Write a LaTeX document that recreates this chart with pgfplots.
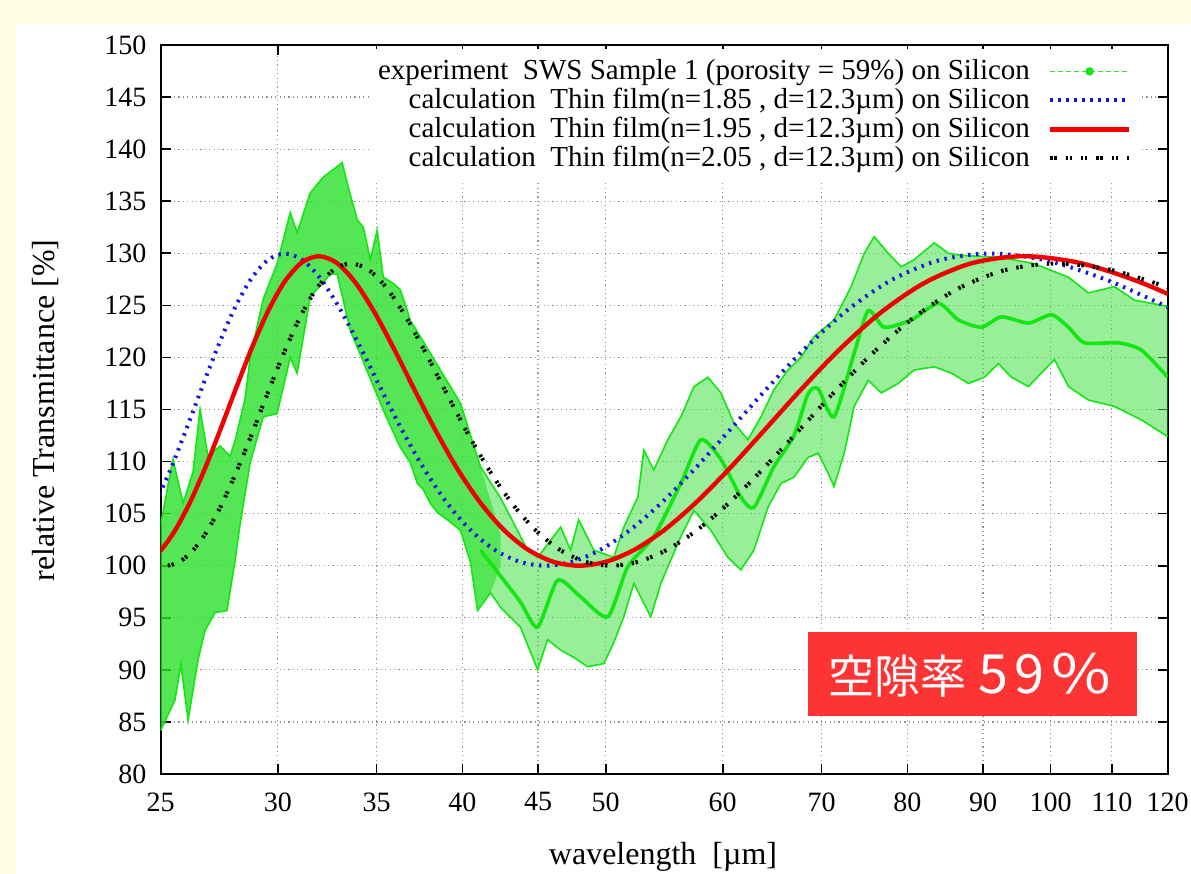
\documentclass[border=0pt]{standalone}
\usepackage{fontspec}
\setmainfont{Liberation Serif}
\newfontfamily\cjk{Noto Sans CJK JP}
\usepackage{graphicx}
\usepackage{pgfplots}
\pgfplotsset{compat=1.18}
\definecolor{bgyellow}{RGB}{255,253,228}
\definecolor{expgreen}{RGB}{20,230,20}
\definecolor{leggreen}{RGB}{60,225,60}
\definecolor{bandgreen}{RGB}{70,225,70}
\definecolor{satgreen}{RGB}{30,225,30}
\definecolor{calcblue}{RGB}{20,20,225}
\definecolor{calcred}{RGB}{240,0,0}
\definecolor{boxred}{RGB}{252,52,52}
\definecolor{gridgray}{RGB}{150,150,150}
\begin{document}
\begin{tikzpicture}
\fill[bgyellow] (0,0) rectangle (595.5pt,437pt);
\fill[white] (7.5pt,0) rectangle (595.5pt,425pt);
\begin{axis}[
  at={(80.35pt,50pt)}, anchor=south west,
  width=503.5pt, height=364.5pt, scale only axis,
  xmode=log, xmin=25, xmax=120, ymin=80, ymax=150,
  xtick={25,30,35,40,45,50,60,70,80,90,100,110,120},
  xticklabels={25,30,35,40,45,50,60,70,80,90,100,110,120},
  ytick={80,85,...,150},
  /pgf/number format/assume math mode=true,
  tick align=inside, major tick length=5pt,
  tick style={black, line width=0.8pt},
  axis line style={line width=0.9pt},
  grid=major,
  major grid style={gridgray, line width=0.6pt, dash pattern=on 0.6pt off 1.6pt},
  ticklabel style={font=\fontsize{14}{16}\selectfont},
  xticklabel style={yshift=-5.7pt},
  yticklabel style={xshift=-3.7pt},
  xlabel={wavelength\ \ [µm]},
  ylabel={relative Transmittance [\%]},
  label style={font=\fontsize{16}{18}\selectfont},
  xlabel style={at={(axis description cs:0.4988,-0.1248)}, anchor=base},
  ylabel style={at={(axis description cs:-0.105,0.4986)}, anchor=base},
  legend style={draw=none, fill=white, at={(axis description cs:1,1)}, anchor=north east,
    xshift=-14pt, yshift=-1.75pt, inner sep=4pt, font=\fontsize{14.5}{17}\selectfont,
    row sep=0pt, nodes={inner sep=0pt, text height=11.25pt, text depth=3.25pt},
    /tikz/every odd column/.append style={column sep=9pt}},
  legend cell align=right, legend plot pos=right,
  legend image code/.code={\draw[mark repeat=2,mark phase=2,#1] plot coordinates {(0pt,0pt) (19.75pt,0pt) (39.5pt,0pt)};},
]
\addlegendimage{leggreen, line width=0.8pt, dash pattern=on 2.5pt off 1.5pt, mark=*, mark size=1.7pt, mark options={solid, fill=expgreen, draw=expgreen}}
\addlegendentry{experiment\ \ SWS Sample 1 (porosity = 59\%) on Silicon}

% experiment: fringe band (upper envelope, then lower envelope backwards)
\addplot[fill=bandgreen, fill opacity=0.55, draw=none, forget plot] coordinates {
(25.00,104.0)(25.48,110.2)(25.89,106.0)(26.29,109.0)(26.58,115.0)(26.91,110.5)(27.42,111.5)(27.85,110.5)(28.07,112.0)(28.51,116.0)(28.74,120.0)(29.33,125.6)(29.97,129.0)(30.59,133.9)(30.92,132.0)(31.56,135.8)(32.20,137.3)(33.17,138.7)(33.43,136.7)(33.96,133.2)(34.28,132.5)(34.65,129.4)(35.03,132.2)(35.36,127.7)(35.92,127.1)(36.31,126.5)(36.90,123.5)(37.46,122.0)(38.65,118.8)(39.88,115.6)(41.14,109.5)(42.45,106.5)(43.32,104.1)(44.27,101.5)(44.97,100.8)(46.61,103.7)(47.34,101.5)(47.94,104.4)(49.08,101.5)(50.63,100.8)(51.43,103.7)(52.57,106.6)(53.06,111.1)(53.89,109.2)(55.08,112.1)(56.21,114.3)(57.37,117.2)(58.63,118.1)(59.83,116.6)(61.05,113.7)(62.40,112.1)(63.68,114.3)(64.98,116.9)(66.42,118.8)(67.78,120.0)(69.17,122.0)(71.37,123.6)(73.29,126.8)(74.80,130.0)(75.97,131.6)(77.65,130.0)(79.24,128.7)(80.86,129.4)(83.43,131.0)(85.27,130.0)(87.01,129.8)(92.61,129.6)(97.50,129.0)(102.81,127.7)(106.07,126.2)(110.45,126.8)(113.94,125.5)(120.00,124.9)
(120.00,112.4)(115.19,114.0)(110.45,115.3)(106.07,115.9)(102.81,117.2)(100.59,119.8)(98.57,118.5)(96.59,117.2)(94.07,118.1)(92.18,119.4)(90.19,118.1)(87.97,117.5)(85.67,118.5)(83.43,119.1)(80.86,118.8)(78.87,117.5)(76.81,116.6)(75.27,117.8)(73.64,115.3)(72.50,110.8)(71.37,107.6)(70.70,108.9)(69.61,110.8)(68.53,110.4)(67.05,108.5)(65.70,107.9)(64.38,105.6)(62.99,101.5)(61.72,99.6)(60.48,100.8)(58.90,103.4)(57.37,105.3)(56.21,102.8)(54.49,98.3)(53.64,95.1)(53.06,96.4)(52.24,98.3)(51.43,95.1)(50.63,92.6)(49.85,90.6)(48.62,90.3)(47.57,91.2)(46.61,91.9)(45.67,92.9)(44.97,90.0)(43.79,94.1)(42.45,96.0)(41.79,97.4)(40.95,95.7)(40.51,100.3)(39.88,103.4)(39.08,104.4)(38.47,105.1)(38.05,106.0)(37.64,107.3)(37.29,107.9)(36.88,109.9)(36.30,111.4)(35.60,114.0)(34.90,116.9)(33.59,122.6)(32.91,128.0)(32.56,128.0)(31.56,125.8)(30.92,118.5)(30.59,120.0)(29.97,114.6)(29.33,114.3)(28.74,109.9)(28.29,104.0)(28.07,100.5)(27.72,95.7)(27.21,95.5)(26.79,93.8)(26.50,91.0)(26.09,85.2)(25.80,90.5)(25.56,87.1)(25.00,84.2)
} -- cycle;
% dense left part of the band
\addplot[fill=satgreen, fill opacity=0.55, draw=none, forget plot] coordinates {
(25.00,104.0)(25.48,110.2)(25.89,106.0)(26.29,109.0)(26.58,115.0)(26.91,110.5)(27.42,111.5)(27.85,110.5)(28.07,112.0)(28.51,116.0)(28.74,120.0)(29.33,125.6)(29.97,129.0)(30.59,133.9)(30.92,132.0)(31.56,135.8)(32.20,137.3)(33.17,138.7)(33.43,136.7)(33.96,133.2)(34.28,132.5)(34.65,129.4)(35.03,132.2)(35.36,127.7)(35.92,127.1)(36.31,126.5)(36.90,123.5)(37.46,122.0)(38.65,118.8)(39.88,115.6)(41.14,109.5)(42.45,103.0)
(42.45,100.0)(41.79,97.4)(40.95,95.7)(40.51,100.3)(39.88,103.4)(39.08,104.4)(38.47,105.1)(38.05,106.0)(37.64,107.3)(37.29,107.9)(36.88,109.9)(36.30,111.4)(35.60,114.0)(34.90,116.9)(33.59,122.6)(32.91,128.0)(32.56,128.0)(31.56,125.8)(30.92,118.5)(30.59,120.0)(29.97,114.6)(29.33,114.3)(28.74,109.9)(28.29,104.0)(28.07,100.5)(27.72,95.7)(27.21,95.5)(26.79,93.8)(26.50,91.0)(26.09,85.2)(25.80,90.5)(25.56,87.1)(25.00,84.2)
} -- cycle;
% band edges
\addplot[expgreen, line width=0.8pt, forget plot] coordinates {
(25.00,104.0)(25.48,110.2)(25.89,106.0)(26.29,109.0)(26.58,115.0)(26.91,110.5)(27.42,111.5)(27.85,110.5)(28.07,112.0)(28.51,116.0)(28.74,120.0)(29.33,125.6)(29.97,129.0)(30.59,133.9)(30.92,132.0)(31.56,135.8)(32.20,137.3)(33.17,138.7)(33.43,136.7)(33.96,133.2)(34.28,132.5)(34.65,129.4)(35.03,132.2)(35.36,127.7)(35.92,127.1)(36.31,126.5)(36.90,123.5)(37.46,122.0)(38.65,118.8)(39.88,115.6)(41.14,109.5)(42.45,106.5)(43.32,104.1)(44.27,101.5)(44.97,100.8)(46.61,103.7)(47.34,101.5)(47.94,104.4)(49.08,101.5)(50.63,100.8)(51.43,103.7)(52.57,106.6)(53.06,111.1)(53.89,109.2)(55.08,112.1)(56.21,114.3)(57.37,117.2)(58.63,118.1)(59.83,116.6)(61.05,113.7)(62.40,112.1)(63.68,114.3)(64.98,116.9)(66.42,118.8)(67.78,120.0)(69.17,122.0)(71.37,123.6)(73.29,126.8)(74.80,130.0)(75.97,131.6)(77.65,130.0)(79.24,128.7)(80.86,129.4)(83.43,131.0)(85.27,130.0)(87.01,129.8)(92.61,129.6)(97.50,129.0)(102.81,127.7)(106.07,126.2)(110.45,126.8)(113.94,125.5)(120.00,124.9)
};
\addplot[expgreen, line width=0.8pt, forget plot] coordinates {
(25.00,84.2)(25.56,87.1)(25.80,90.5)(26.09,85.2)(26.50,91.0)(26.79,93.8)(27.21,95.5)(27.72,95.7)(28.07,100.5)(28.29,104.0)(28.74,109.9)(29.33,114.3)(29.97,114.6)(30.59,120.0)(30.92,118.5)(31.56,125.8)(32.56,128.0)(32.91,128.0)(33.59,122.6)(34.90,116.9)(35.60,114.0)(36.30,111.4)(36.88,109.9)(37.29,107.9)(37.64,107.3)(38.05,106.0)(38.47,105.1)(39.08,104.4)(39.88,103.4)(40.51,100.3)(40.95,95.7)(41.79,97.4)(42.45,96.0)(43.79,94.1)(44.97,90.0)(45.67,92.9)(46.61,91.9)(47.57,91.2)(48.62,90.3)(49.85,90.6)(50.63,92.6)(51.43,95.1)(52.24,98.3)(53.06,96.4)(53.64,95.1)(54.49,98.3)(56.21,102.8)(57.37,105.3)(58.90,103.4)(60.48,100.8)(61.72,99.6)(62.99,101.5)(64.38,105.6)(65.70,107.9)(67.05,108.5)(68.53,110.4)(69.61,110.8)(70.70,108.9)(71.37,107.6)(72.50,110.8)(73.64,115.3)(75.27,117.8)(76.81,116.6)(78.87,117.5)(80.86,118.8)(83.43,119.1)(85.67,118.5)(87.97,117.5)(90.19,118.1)(92.18,119.4)(94.07,118.1)(96.59,117.2)(98.57,118.5)(100.59,119.8)(102.81,117.2)(106.07,115.9)(110.45,115.3)(115.19,114.0)(120.00,112.4)
};
% experiment: dense core line
\addplot[expgreen, line width=1.8pt, smooth, tension=0.4, forget plot] coordinates {
(41.14,101.5)(42.45,99.0)(43.79,96.5)(44.97,94.1)(46.39,98.6)(48.09,97.0)(50.16,95.1)(51.75,99.9)(53.89,102.8)(56.21,107.9)(57.99,112.1)(59.83,110.2)(61.72,106.6)(62.99,105.6)(64.98,109.5)(67.05,112.5)(68.53,116.5)(69.61,117.0)(71.37,114.3)(73.64,120.4)(75.27,124.5)(77.17,122.9)(80.49,123.6)(83.95,125.2)(86.61,123.6)(89.77,122.9)(92.61,123.9)(96.59,123.3)(100.12,124.1)(102.81,122.9)(105.41,121.4)(111.14,121.4)(115.19,120.7)(120.00,118.1)
};

% n = 1.85
\addplot[calcblue, line width=2pt, dash pattern=on 1.2pt off 2.8pt, smooth] coordinates {
(24.824,106.12)(25.401,109.35)(26.006,113.04)(26.640,116.98)(27.306,120.92)(28.006,124.51)(28.743,127.42)(29.520,129.32)(30.340,129.98)(31.207,129.32)(32.125,127.42)(33.098,124.51)(34.133,120.92)(35.234,116.98)(36.408,113.04)(37.663,109.35)(39.009,106.12)(40.453,103.50)(42.010,101.57)(43.690,100.40)(45.510,100.00)(47.489,100.40)(49.647,101.57)(52.012,103.50)(54.612,106.12)(57.486,109.35)(60.680,113.04)(64.249,116.98)(68.265,120.92)(72.816,124.51)(78.017,127.42)(84.020,129.32)(91.020,129.98)(99.295,129.32)(109.224,127.42)(121.360,124.51)
};
\addlegendentry{calculation\ \ Thin film(n=1.85 , d=12.3µm) on Silicon}
% n = 1.95
\addplot[calcred, line width=2.2pt, smooth] coordinates {
(24.495,100.39)(25.028,101.56)(25.584,103.47)(26.165,106.08)(26.774,109.28)(27.411,112.94)(28.080,116.85)(28.782,120.75)(29.520,124.31)(30.297,127.19)(31.116,129.07)(31.980,129.72)(32.894,129.07)(33.861,127.19)(34.887,124.31)(35.978,120.75)(37.138,116.85)(38.376,112.94)(39.699,109.28)(41.117,106.08)(42.640,103.47)(44.280,101.56)(46.051,100.39)(47.970,100.00)(50.056,100.39)(52.331,101.56)(54.823,103.47)(57.564,106.08)(60.594,109.28)(63.960,112.94)(67.722,116.85)(71.955,120.75)(76.752,124.31)(82.234,127.19)(88.560,129.07)(95.940,129.72)(104.662,129.07)(115.128,127.19)(127.920,124.31)
};
\addlegendentry{calculation\ \ Thin film(n=1.95 , d=12.3µm) on Silicon}
% n = 2.05
\addplot[black, line width=2pt, dash pattern=on 1.2pt off 0.8pt on 1.2pt off 4.5pt, smooth] coordinates {
(24.700,100.39)(25.215,100.00)(25.751,100.39)(26.311,101.53)(26.896,103.41)(27.507,105.96)(28.147,109.10)(28.817,112.67)(29.520,116.49)(30.258,120.29)(31.034,123.76)(31.851,126.56)(32.712,128.38)(33.620,129.02)(34.581,128.38)(35.598,126.56)(36.676,123.76)(37.823,120.29)(39.043,116.49)(40.344,112.67)(41.735,109.10)(43.226,105.96)(44.827,103.41)(46.551,101.53)(48.413,100.39)(50.430,100.00)(52.622,100.39)(55.015,101.53)(57.634,103.41)(60.516,105.96)(63.701,109.10)(67.240,112.67)(71.195,116.49)(75.645,120.29)(80.688,123.76)(86.451,126.56)(93.102,128.38)(100.860,129.02)(110.029,128.38)(121.032,126.56)
};
\addlegendentry{calculation\ \ Thin film(n=2.05 , d=12.3µm) on Silicon}
\end{axis}
\fill[boxred] (404pt,79pt) rectangle (568.5pt,121pt);
\node[text=white, anchor=base west, inner sep=0pt] at (414pt,90pt)
  {\cjk\fontsize{23}{25}\selectfont 空隙率\kern6pt\fontsize{27}{30}\selectfont 5\kern3.3pt 9\kern3.3pt\scalebox{1.2}[1]{\%}};
\pgfresetboundingbox
\path[use as bounding box] (0,0) rectangle (595.5pt,437pt);
\end{tikzpicture}
\end{document}
